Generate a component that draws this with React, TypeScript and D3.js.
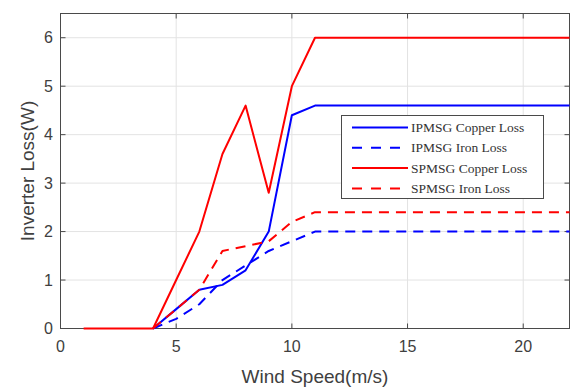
import React from "react";
import * as d3 from "d3";

const windSpeed = [1, 2, 3, 4, 5, 6, 7, 8, 9, 10, 11, 12, 14, 16, 18, 20, 22];
const ipmsgCopper = [null, null, null, 0, 0.4, 0.8, 0.9, 1.2, 2.0, 4.4, 4.6, 4.6, 4.6, 4.6, 4.6, 4.6, 4.6];
const ipmsgIron = [null, null, null, 0, 0.2, 0.5, 1.0, 1.3, 1.6, 1.8, 2.0, 2.0, 2.0, 2.0, 2.0, 2.0, 2.0];
const spmsgCopper = [0, 0, 0, 0, 1.0, 2.0, 3.6, 4.6, 2.8, 5.0, 6.0, 6.0, 6.0, 6.0, 6.0, 6.0, 6.0];
const spmsgIron = [null, null, null, 0, 0.4, 0.8, 1.6, 1.7, 1.8, 2.2, 2.4, 2.4, 2.4, 2.4, 2.4, 2.4, 2.4];

const xTicks = [0, 5, 10, 15, 20];
const yTicks = [0, 1, 2, 3, 4, 5, 6];
const seriesNames = ["IPMSG Copper Loss", "IPMSG Iron Loss", "SPMSG Copper Loss", "SPMSG Iron Loss"];
const seriesColors = ["#0000ff", "#0000ff", "#ff0000", "#ff0000"];
const seriesDashed = [false, true, false, true];

export default function App() {
  const W = 571, H = 388;
  const left = 60.5, right = 569.5, top = 13.5, bottom = 328.5;
  const x = d3.scaleLinear().domain([0, 22]).range([left, right]);
  const y = d3.scaleLinear().domain([0, 6.5]).range([bottom, top]);
  const line = d3
    .line<[number, number | null]>()
    .defined(d => d[1] !== null)
    .x(d => x(d[0]))
    .y(d => y(d[1] as number));
  const all = [ipmsgCopper, ipmsgIron, spmsgCopper, spmsgIron];
  const axisColor = "#4a4a4a";
  const textColor = "#404040";
  const legX = 341.5, legY = 115.5, legW = 202, legH = 83;
  return (
    <svg width={W} height={H} style={{ position: "absolute", left: 0, top: 0, background: "#fff" }}>
      <rect x={0} y={0} width={W} height={H} fill="#fff" />
      {xTicks.filter(t => t > 0).map(t => (
        <line key={"gx" + t} x1={x(t)} x2={x(t)} y1={top} y2={bottom} stroke="#e3e3e3" strokeWidth={1} />
      ))}
      {yTicks.filter(t => t > 0).map(t => (
        <line key={"gy" + t} x1={left} x2={right} y1={y(t)} y2={y(t)} stroke="#e3e3e3" strokeWidth={1} />
      ))}
      <rect x={left} y={top} width={right - left} height={bottom - top} fill="none" stroke={axisColor} strokeWidth={1} />
      {xTicks.map(t => (
        <g key={"tx" + t}>
          <line x1={x(t)} x2={x(t)} y1={bottom} y2={bottom - 5} stroke={axisColor} />
          <line x1={x(t)} x2={x(t)} y1={top} y2={top + 5} stroke={axisColor} />
          <text x={x(t)} y={352} textAnchor="middle" fontFamily="Liberation Sans, Arial, sans-serif" fontSize={16} fill={textColor}>{t}</text>
        </g>
      ))}
      {yTicks.map(t => (
        <g key={"ty" + t}>
          <line x1={left} x2={left + 5} y1={y(t)} y2={y(t)} stroke={axisColor} />
          <line x1={right} x2={right - 5} y1={y(t)} y2={y(t)} stroke={axisColor} />
          <text x={53} y={y(t) + 5.5} textAnchor="end" fontFamily="Liberation Sans, Arial, sans-serif" fontSize={16} fill={textColor}>{t}</text>
        </g>
      ))}
      <g>
        {all.map((vals, i) => (
          <path
            key={"s" + i}
            d={line(windSpeed.map((w, j) => [w, vals[j]] as [number, number | null])) || ""}
            fill="none"
            stroke={seriesColors[i]}
            strokeWidth={2}
            strokeDasharray={seriesDashed[i] ? "10,7" : undefined}
            strokeLinejoin="round"
          />
        ))}
      </g>
      <text x={(left + right) / 2} y={383} textAnchor="middle" fontFamily="Liberation Sans, Arial, sans-serif" fontSize={19} fill={textColor}>Wind Speed(m/s)</text>
      <text transform={`translate(34,${(top + bottom) / 2}) rotate(-90)`} textAnchor="middle" fontFamily="Liberation Sans, Arial, sans-serif" fontSize={19} fill={textColor}>Inverter Loss(W)</text>
      <rect x={legX} y={legY} width={legW} height={legH} fill="#fff" stroke={axisColor} strokeWidth={1} />
      {seriesNames.map((name, i) => {
        const ry = 127.5 + i * 20.3;
        return (
          <g key={"l" + i}>
            <line x1={352} x2={408} y1={ry} y2={ry} stroke={seriesColors[i]} strokeWidth={2} strokeDasharray={seriesDashed[i] ? "10,9" : undefined} />
            <text x={411} y={ry + 4.5} fontFamily="Liberation Serif, Times New Roman, serif" fontSize={13.5} fill="#333">{name}</text>
          </g>
        );
      })}
    </svg>
  );
}
